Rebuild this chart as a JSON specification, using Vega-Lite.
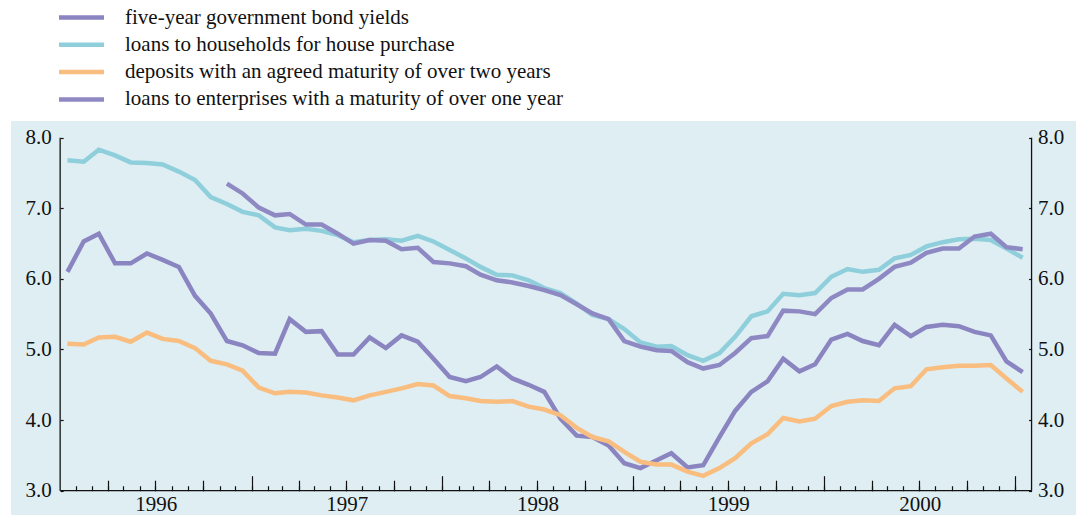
{
  "$schema": "https://vega.github.io/schema/vega-lite/v6.json",
  "width": 1065,
  "height": 394,
  "autosize": {"type": "none"},
  "padding": {"left": 11, "top": 121, "right": 0, "bottom": 0},
  "background": "white",
  "config": {
    "view": {"fill": "#dfeef3", "stroke": null},
    "font": "Liberation Serif",
    "axis": {"labelFont": "Liberation Serif", "labelFontSize": 21, "labelColor": "#111", "tickColor": "#111", "domain": false, "grid": false, "title": null, "tickWidth": 1.2},
    "legend": {"orient": "none", "legendX": 60, "legendY": -114, "title": null, "symbolType": "M-4,0H4", "symbolSize": 126.6, "labelFont": "Liberation Serif", "labelFontSize": 21, "labelColor": "#111", "labelOffset": 33, "rowPadding": 5.3, "padding": 0, "labelLimit": 800}
  },
  "data": {"values": [
    {"date":"1996-01-15","series":"bond","value":6.10},{"date":"1996-02-15","series":"bond","value":6.53},{"date":"1996-03-15","series":"bond","value":6.64},{"date":"1996-04-15","series":"bond","value":6.22},{"date":"1996-05-15","series":"bond","value":6.22},{"date":"1996-06-15","series":"bond","value":6.36},{"date":"1996-07-15","series":"bond","value":6.27},{"date":"1996-08-15","series":"bond","value":6.17},{"date":"1996-09-15","series":"bond","value":5.76},{"date":"1996-10-15","series":"bond","value":5.51},{"date":"1996-11-15","series":"bond","value":5.12},{"date":"1996-12-15","series":"bond","value":5.06},
    {"date":"1997-01-15","series":"bond","value":4.95},{"date":"1997-02-15","series":"bond","value":4.94},{"date":"1997-03-15","series":"bond","value":5.43},{"date":"1997-04-15","series":"bond","value":5.25},{"date":"1997-05-15","series":"bond","value":5.26},{"date":"1997-06-15","series":"bond","value":4.93},{"date":"1997-07-15","series":"bond","value":4.93},{"date":"1997-08-15","series":"bond","value":5.17},{"date":"1997-09-15","series":"bond","value":5.02},{"date":"1997-10-15","series":"bond","value":5.20},{"date":"1997-11-15","series":"bond","value":5.11},{"date":"1997-12-15","series":"bond","value":4.87},
    {"date":"1998-01-15","series":"bond","value":4.61},{"date":"1998-02-15","series":"bond","value":4.55},{"date":"1998-03-15","series":"bond","value":4.61},{"date":"1998-04-15","series":"bond","value":4.76},{"date":"1998-05-15","series":"bond","value":4.59},{"date":"1998-06-15","series":"bond","value":4.50},{"date":"1998-07-15","series":"bond","value":4.40},{"date":"1998-08-15","series":"bond","value":4.02},{"date":"1998-09-15","series":"bond","value":3.78},{"date":"1998-10-15","series":"bond","value":3.76},{"date":"1998-11-15","series":"bond","value":3.64},{"date":"1998-12-15","series":"bond","value":3.39},
    {"date":"1999-01-15","series":"bond","value":3.32},{"date":"1999-02-15","series":"bond","value":3.43},{"date":"1999-03-15","series":"bond","value":3.53},{"date":"1999-04-15","series":"bond","value":3.33},{"date":"1999-05-15","series":"bond","value":3.36},{"date":"1999-06-15","series":"bond","value":3.76},{"date":"1999-07-15","series":"bond","value":4.13},{"date":"1999-08-15","series":"bond","value":4.40},{"date":"1999-09-15","series":"bond","value":4.55},{"date":"1999-10-15","series":"bond","value":4.87},{"date":"1999-11-15","series":"bond","value":4.69},{"date":"1999-12-15","series":"bond","value":4.79},
    {"date":"2000-01-15","series":"bond","value":5.14},{"date":"2000-02-15","series":"bond","value":5.22},{"date":"2000-03-15","series":"bond","value":5.12},{"date":"2000-04-15","series":"bond","value":5.06},{"date":"2000-05-15","series":"bond","value":5.35},{"date":"2000-06-15","series":"bond","value":5.19},{"date":"2000-07-15","series":"bond","value":5.32},{"date":"2000-08-15","series":"bond","value":5.35},{"date":"2000-09-15","series":"bond","value":5.33},{"date":"2000-10-15","series":"bond","value":5.25},{"date":"2000-11-15","series":"bond","value":5.20},{"date":"2000-12-15","series":"bond","value":4.83},
    {"date":"2001-01-15","series":"bond","value":4.68},

    {"date":"1996-01-15","series":"house","value":7.68},{"date":"1996-02-15","series":"house","value":7.66},{"date":"1996-03-15","series":"house","value":7.83},{"date":"1996-04-15","series":"house","value":7.75},{"date":"1996-05-15","series":"house","value":7.65},{"date":"1996-06-15","series":"house","value":7.64},{"date":"1996-07-15","series":"house","value":7.62},{"date":"1996-08-15","series":"house","value":7.52},{"date":"1996-09-15","series":"house","value":7.40},{"date":"1996-10-15","series":"house","value":7.16},{"date":"1996-11-15","series":"house","value":7.06},{"date":"1996-12-15","series":"house","value":6.95},
    {"date":"1997-01-15","series":"house","value":6.90},{"date":"1997-02-15","series":"house","value":6.73},{"date":"1997-03-15","series":"house","value":6.69},{"date":"1997-04-15","series":"house","value":6.71},{"date":"1997-05-15","series":"house","value":6.68},{"date":"1997-06-15","series":"house","value":6.62},{"date":"1997-07-15","series":"house","value":6.52},{"date":"1997-08-15","series":"house","value":6.55},{"date":"1997-09-15","series":"house","value":6.56},{"date":"1997-10-15","series":"house","value":6.54},{"date":"1997-11-15","series":"house","value":6.61},{"date":"1997-12-15","series":"house","value":6.53},
    {"date":"1998-01-15","series":"house","value":6.41},{"date":"1998-02-15","series":"house","value":6.29},{"date":"1998-03-15","series":"house","value":6.17},{"date":"1998-04-15","series":"house","value":6.06},{"date":"1998-05-15","series":"house","value":6.05},{"date":"1998-06-15","series":"house","value":5.98},{"date":"1998-07-15","series":"house","value":5.87},{"date":"1998-08-15","series":"house","value":5.80},{"date":"1998-09-15","series":"house","value":5.65},{"date":"1998-10-15","series":"house","value":5.49},{"date":"1998-11-15","series":"house","value":5.43},{"date":"1998-12-15","series":"house","value":5.29},
    {"date":"1999-01-15","series":"house","value":5.10},{"date":"1999-02-15","series":"house","value":5.04},{"date":"1999-03-15","series":"house","value":5.05},{"date":"1999-04-15","series":"house","value":4.92},{"date":"1999-05-15","series":"house","value":4.84},{"date":"1999-06-15","series":"house","value":4.95},{"date":"1999-07-15","series":"house","value":5.18},{"date":"1999-08-15","series":"house","value":5.47},{"date":"1999-09-15","series":"house","value":5.54},{"date":"1999-10-15","series":"house","value":5.79},{"date":"1999-11-15","series":"house","value":5.77},{"date":"1999-12-15","series":"house","value":5.80},
    {"date":"2000-01-15","series":"house","value":6.03},{"date":"2000-02-15","series":"house","value":6.14},{"date":"2000-03-15","series":"house","value":6.10},{"date":"2000-04-15","series":"house","value":6.13},{"date":"2000-05-15","series":"house","value":6.29},{"date":"2000-06-15","series":"house","value":6.34},{"date":"2000-07-15","series":"house","value":6.46},{"date":"2000-08-15","series":"house","value":6.52},{"date":"2000-09-15","series":"house","value":6.56},{"date":"2000-10-15","series":"house","value":6.57},{"date":"2000-11-15","series":"house","value":6.55},{"date":"2000-12-15","series":"house","value":6.43},
    {"date":"2001-01-15","series":"house","value":6.30},

    {"date":"1996-01-15","series":"dep","value":5.08},{"date":"1996-02-15","series":"dep","value":5.07},{"date":"1996-03-15","series":"dep","value":5.17},{"date":"1996-04-15","series":"dep","value":5.18},{"date":"1996-05-15","series":"dep","value":5.11},{"date":"1996-06-15","series":"dep","value":5.24},{"date":"1996-07-15","series":"dep","value":5.15},{"date":"1996-08-15","series":"dep","value":5.12},{"date":"1996-09-15","series":"dep","value":5.02},{"date":"1996-10-15","series":"dep","value":4.84},{"date":"1996-11-15","series":"dep","value":4.79},{"date":"1996-12-15","series":"dep","value":4.70},
    {"date":"1997-01-15","series":"dep","value":4.46},{"date":"1997-02-15","series":"dep","value":4.38},{"date":"1997-03-15","series":"dep","value":4.40},{"date":"1997-04-15","series":"dep","value":4.39},{"date":"1997-05-15","series":"dep","value":4.35},{"date":"1997-06-15","series":"dep","value":4.32},{"date":"1997-07-15","series":"dep","value":4.28},{"date":"1997-08-15","series":"dep","value":4.35},{"date":"1997-09-15","series":"dep","value":4.40},{"date":"1997-10-15","series":"dep","value":4.45},{"date":"1997-11-15","series":"dep","value":4.51},{"date":"1997-12-15","series":"dep","value":4.49},
    {"date":"1998-01-15","series":"dep","value":4.34},{"date":"1998-02-15","series":"dep","value":4.31},{"date":"1998-03-15","series":"dep","value":4.27},{"date":"1998-04-15","series":"dep","value":4.26},{"date":"1998-05-15","series":"dep","value":4.27},{"date":"1998-06-15","series":"dep","value":4.19},{"date":"1998-07-15","series":"dep","value":4.15},{"date":"1998-08-15","series":"dep","value":4.07},{"date":"1998-09-15","series":"dep","value":3.89},{"date":"1998-10-15","series":"dep","value":3.76},{"date":"1998-11-15","series":"dep","value":3.70},{"date":"1998-12-15","series":"dep","value":3.55},
    {"date":"1999-01-15","series":"dep","value":3.41},{"date":"1999-02-15","series":"dep","value":3.37},{"date":"1999-03-15","series":"dep","value":3.37},{"date":"1999-04-15","series":"dep","value":3.27},{"date":"1999-05-15","series":"dep","value":3.21},{"date":"1999-06-15","series":"dep","value":3.32},{"date":"1999-07-15","series":"dep","value":3.46},{"date":"1999-08-15","series":"dep","value":3.67},{"date":"1999-09-15","series":"dep","value":3.80},{"date":"1999-10-15","series":"dep","value":4.03},{"date":"1999-11-15","series":"dep","value":3.98},{"date":"1999-12-15","series":"dep","value":4.02},
    {"date":"2000-01-15","series":"dep","value":4.20},{"date":"2000-02-15","series":"dep","value":4.26},{"date":"2000-03-15","series":"dep","value":4.28},{"date":"2000-04-15","series":"dep","value":4.27},{"date":"2000-05-15","series":"dep","value":4.45},{"date":"2000-06-15","series":"dep","value":4.48},{"date":"2000-07-15","series":"dep","value":4.72},{"date":"2000-08-15","series":"dep","value":4.75},{"date":"2000-09-15","series":"dep","value":4.77},{"date":"2000-10-15","series":"dep","value":4.77},{"date":"2000-11-15","series":"dep","value":4.78},{"date":"2000-12-15","series":"dep","value":4.59},
    {"date":"2001-01-15","series":"dep","value":4.40},

    {"date":"1996-11-15","series":"ent","value":7.35},{"date":"1996-12-15","series":"ent","value":7.21},
    {"date":"1997-01-15","series":"ent","value":7.01},{"date":"1997-02-15","series":"ent","value":6.90},{"date":"1997-03-15","series":"ent","value":6.92},{"date":"1997-04-15","series":"ent","value":6.77},{"date":"1997-05-15","series":"ent","value":6.77},{"date":"1997-06-15","series":"ent","value":6.64},{"date":"1997-07-15","series":"ent","value":6.50},{"date":"1997-08-15","series":"ent","value":6.55},{"date":"1997-09-15","series":"ent","value":6.54},{"date":"1997-10-15","series":"ent","value":6.42},{"date":"1997-11-15","series":"ent","value":6.44},{"date":"1997-12-15","series":"ent","value":6.24},
    {"date":"1998-01-15","series":"ent","value":6.22},{"date":"1998-02-15","series":"ent","value":6.18},{"date":"1998-03-15","series":"ent","value":6.06},{"date":"1998-04-15","series":"ent","value":5.98},{"date":"1998-05-15","series":"ent","value":5.95},{"date":"1998-06-15","series":"ent","value":5.90},{"date":"1998-07-15","series":"ent","value":5.84},{"date":"1998-08-15","series":"ent","value":5.77},{"date":"1998-09-15","series":"ent","value":5.64},{"date":"1998-10-15","series":"ent","value":5.51},{"date":"1998-11-15","series":"ent","value":5.43},{"date":"1998-12-15","series":"ent","value":5.12},
    {"date":"1999-01-15","series":"ent","value":5.04},{"date":"1999-02-15","series":"ent","value":4.99},{"date":"1999-03-15","series":"ent","value":4.98},{"date":"1999-04-15","series":"ent","value":4.82},{"date":"1999-05-15","series":"ent","value":4.73},{"date":"1999-06-15","series":"ent","value":4.78},{"date":"1999-07-15","series":"ent","value":4.95},{"date":"1999-08-15","series":"ent","value":5.16},{"date":"1999-09-15","series":"ent","value":5.19},{"date":"1999-10-15","series":"ent","value":5.55},{"date":"1999-11-15","series":"ent","value":5.54},{"date":"1999-12-15","series":"ent","value":5.50},
    {"date":"2000-01-15","series":"ent","value":5.73},{"date":"2000-02-15","series":"ent","value":5.85},{"date":"2000-03-15","series":"ent","value":5.85},{"date":"2000-04-15","series":"ent","value":6.00},{"date":"2000-05-15","series":"ent","value":6.17},{"date":"2000-06-15","series":"ent","value":6.23},{"date":"2000-07-15","series":"ent","value":6.37},{"date":"2000-08-15","series":"ent","value":6.43},{"date":"2000-09-15","series":"ent","value":6.43},{"date":"2000-10-15","series":"ent","value":6.60},{"date":"2000-11-15","series":"ent","value":6.64},{"date":"2000-12-15","series":"ent","value":6.45},
    {"date":"2001-01-15","series":"ent","value":6.42}
  ]},
  "layer": [
    {
      "mark": {"type": "line", "strokeJoin": "miter", "strokeCap": "butt"},
      "encoding": {
        "x": {"field": "date", "type": "temporal",
          "scale": {"domain": [{"year":1995,"month":9,"date":29,"utc":true},{"year":2001,"month":4,"date":27,"utc":true}], "nice": false},
          "axis": {"orient": "bottom", "offset": -24.3, "ticks": false, "labelPadding": 3, "labelFlush": false, "labelOverlap": false, "labelExpr": "utcFormat(datum.value, '%Y')",
            "values": [{"year":1996,"month":7,"date":2,"utc":true},{"year":1997,"month":7,"date":2,"utc":true},{"year":1998,"month":7,"date":2,"utc":true},{"year":1999,"month":7,"date":2,"utc":true},{"year":2000,"month":7,"date":2,"utc":true}]}},
        "y": {"field": "value", "type": "quantitative",
          "scale": {"domain": [2.6558, 8.2365], "nice": false, "zero": false},
          "axis": {"orient": "left", "offset": -49.15, "values": [3,4,5,6,7,8], "format": ".1f", "tickSize": -3, "labelPadding": 12}},
        "color": {"field": "series", "type": "ordinal",
          "scale": {"domain": ["bond","house","dep","ent"], "range": ["#8a85c0","#8ecfdb","#f8bd7f","#8f89c3"]},
          "legend": {"labelExpr": "datum.label == 'bond' ? 'five-year government bond yields' : datum.label == 'house' ? 'loans to households for house purchase' : datum.label == 'dep' ? 'deposits with an agreed maturity of over two years' : 'loans to enterprises with a maturity of over one year'",
            "encode": {"symbols": {
              "enter": {"strokeWidth": [{"test": "datum.value === 'ent'", "value": 2}, {"value": 4}]},
              "update": {"strokeWidth": [{"test": "datum.value === 'ent'", "value": 2}, {"value": 4}]}}}}},
        "strokeWidth": {"field": "series", "type": "ordinal",
          "scale": {"domain": ["bond","house","dep","ent"], "range": [4.5,4.5,4.5,2]},
          "legend": null}
      }
    },
    {
      "data": {"values": [{}]},
      "mark": {"type": "rule", "color": "#111", "strokeWidth": 1.3},
      "encoding": {
        "x": {"datum": {"year":1996,"month":1,"date":1,"utc":true}, "type": "temporal",
          "axis": {"orient": "bottom", "offset": -24.3, "labels": false, "tickSize": -5,
            "values": [
              {"year":1996,"month":2,"utc":true},{"year":1996,"month":3,"utc":true},{"year":1996,"month":4,"utc":true},{"year":1996,"month":5,"utc":true},{"year":1996,"month":6,"utc":true},{"year":1996,"month":7,"utc":true},{"year":1996,"month":8,"utc":true},{"year":1996,"month":9,"utc":true},{"year":1996,"month":10,"utc":true},{"year":1996,"month":11,"utc":true},{"year":1996,"month":12,"utc":true},
              {"year":1997,"month":1,"utc":true},{"year":1997,"month":2,"utc":true},{"year":1997,"month":3,"utc":true},{"year":1997,"month":4,"utc":true},{"year":1997,"month":5,"utc":true},{"year":1997,"month":6,"utc":true},{"year":1997,"month":7,"utc":true},{"year":1997,"month":8,"utc":true},{"year":1997,"month":9,"utc":true},{"year":1997,"month":10,"utc":true},{"year":1997,"month":11,"utc":true},{"year":1997,"month":12,"utc":true},
              {"year":1998,"month":1,"utc":true},{"year":1998,"month":2,"utc":true},{"year":1998,"month":3,"utc":true},{"year":1998,"month":4,"utc":true},{"year":1998,"month":5,"utc":true},{"year":1998,"month":6,"utc":true},{"year":1998,"month":7,"utc":true},{"year":1998,"month":8,"utc":true},{"year":1998,"month":9,"utc":true},{"year":1998,"month":10,"utc":true},{"year":1998,"month":11,"utc":true},{"year":1998,"month":12,"utc":true},
              {"year":1999,"month":1,"utc":true},{"year":1999,"month":2,"utc":true},{"year":1999,"month":3,"utc":true},{"year":1999,"month":4,"utc":true},{"year":1999,"month":5,"utc":true},{"year":1999,"month":6,"utc":true},{"year":1999,"month":7,"utc":true},{"year":1999,"month":8,"utc":true},{"year":1999,"month":9,"utc":true},{"year":1999,"month":10,"utc":true},{"year":1999,"month":11,"utc":true},{"year":1999,"month":12,"utc":true},
              {"year":2000,"month":1,"utc":true},{"year":2000,"month":2,"utc":true},{"year":2000,"month":3,"utc":true},{"year":2000,"month":4,"utc":true},{"year":2000,"month":5,"utc":true},{"year":2000,"month":6,"utc":true},{"year":2000,"month":7,"utc":true},{"year":2000,"month":8,"utc":true},{"year":2000,"month":9,"utc":true},{"year":2000,"month":10,"utc":true},{"year":2000,"month":11,"utc":true},{"year":2000,"month":12,"utc":true},
              {"year":2001,"month":1,"utc":true}
            ]}},
        "x2": {"datum": {"year":2001,"month":2,"date":1,"utc":true}},
        "y": {"datum": 3, "type": "quantitative", "axis": null}
      }
    },
    {
      "data": {"values": [{}]},
      "mark": {"type": "rule", "color": "#111", "strokeWidth": 1.3},
      "encoding": {
        "x": {"datum": {"year":1996,"month":1,"date":1,"utc":true}, "type": "temporal",
          "axis": {"orient": "bottom", "offset": -24.3, "labels": false, "tickSize": -10.5,
            "values": [
              {"year":1996,"month":4,"utc":true},{"year":1996,"month":7,"utc":true},{"year":1996,"month":10,"utc":true},
              {"year":1997,"month":4,"utc":true},{"year":1997,"month":7,"utc":true},{"year":1997,"month":10,"utc":true},
              {"year":1998,"month":4,"utc":true},{"year":1998,"month":7,"utc":true},{"year":1998,"month":10,"utc":true},
              {"year":1999,"month":4,"utc":true},{"year":1999,"month":7,"utc":true},{"year":1999,"month":10,"utc":true},
              {"year":2000,"month":4,"utc":true},{"year":2000,"month":7,"utc":true},{"year":2000,"month":10,"utc":true}
            ]}},
        "y": {"datum": 3, "type": "quantitative", "axis": null},
        "y2": {"datum": 8}
      }
    },
    {
      "data": {"values": [{}]},
      "mark": {"type": "rule", "color": "#111", "strokeWidth": 1.3},
      "encoding": {
        "x": {"datum": {"year":2001,"month":2,"date":1,"utc":true}, "type": "temporal",
          "axis": {"orient": "bottom", "offset": -24.3, "labels": false, "tickSize": -15,
            "values": [{"year":1997,"month":1,"utc":true},{"year":1998,"month":1,"utc":true},{"year":1999,"month":1,"utc":true},{"year":2000,"month":1,"utc":true},{"year":2001,"month":1,"utc":true}]}},
        "y": {"datum": 3, "type": "quantitative",
          "axis": {"orient": "right", "offset": -44.44, "values": [3,4,5,6,7,8], "format": ".1f", "tickSize": -3, "labelPadding": 9}},
        "y2": {"datum": 8}
      }
    }
  ],
  "resolve": {"axis": {"x": "independent", "y": "independent"}}
}
